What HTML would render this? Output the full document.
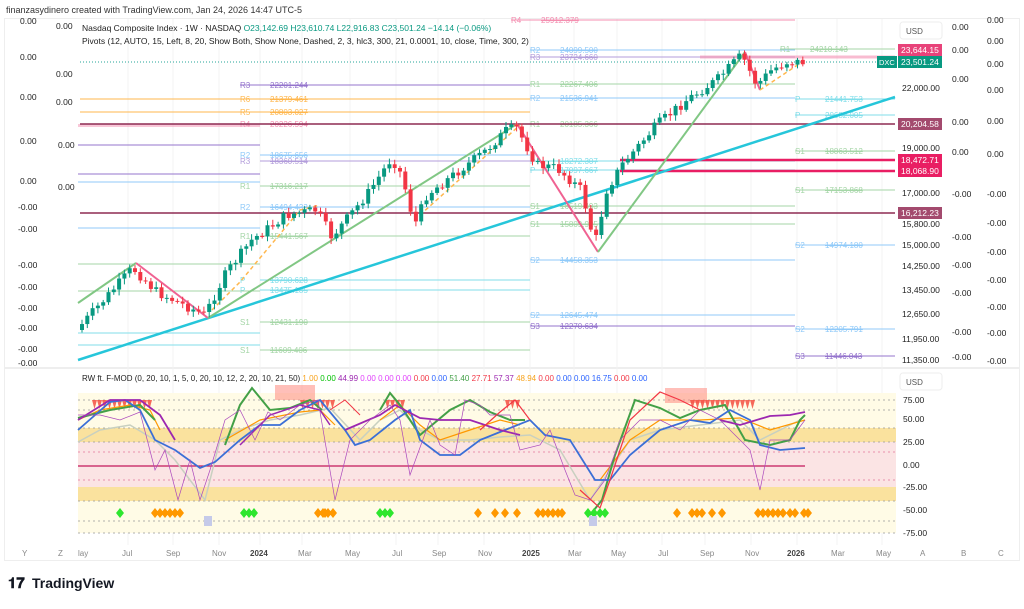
<!DOCTYPE html>
<html><head><meta charset="utf-8"><style>
body{margin:0;background:#fff;width:1024px;height:604px;overflow:hidden;font-family:"Liberation Sans",sans-serif}
svg text{font-family:"Liberation Sans",sans-serif}
</style></head><body>
<svg id="s" width="1024" height="604" viewBox="0 0 1024 604" xmlns="http://www.w3.org/2000/svg">
<rect width="1024" height="604" fill="#fff"/>
<text x="6" y="13" font-size="9" fill="#333">finanzasydinero created with TradingView.com, Jan 24, 2026 14:47 UTC-5</text>
<rect x="4.5" y="18.5" width="1015" height="542" fill="none" stroke="#eee"/>
<line x1="5" y1="368" x2="1019" y2="368" stroke="#ddd"/>
<g id="grid"></g>
<g id="levels"></g>
<g id="ind"></g>
<g id="candles"></g>
<g font-size="8.5" fill="#222">
<text x="82" y="31">Nasdaq Composite Index · 1W · NASDAQ <tspan fill="#089981">O23,142.69 H23,610.74 L22,916.83 C23,501.24 −14.14 (−0.06%)</tspan></text>
<text x="82" y="44">Pivots (12, AUTO, 15, Left, 8, 20, Show Both, Show None, Dashed, 2, 3, hlc3, 300, 21, 0.0001, 10, close, Time, 300, 2)</text>
<text x="82" y="381" font-size="8">RW ft. F-MOD (0, 20, 10, 1, 5, 0, 20, 10, 12, 2, 20, 10, 21, 50) <tspan fill="#f7a21b">1.00</tspan> <tspan fill="#00c000">0.00</tspan> <tspan fill="#9c27b0">44.99</tspan> <tspan fill="#e040fb">0.00 0.00 0.00</tspan> <tspan fill="#f23645">0.00</tspan> <tspan fill="#2962ff">0.00</tspan> <tspan fill="#43a047">51.40</tspan> <tspan fill="#f23645">27.71</tspan> <tspan fill="#9c27b0">57.37</tspan> <tspan fill="#f7a21b">48.94</tspan> <tspan fill="#f23645">0.00</tspan> <tspan fill="#2962ff">0.00 0.00 16.75</tspan> <tspan fill="#f23645">0.00</tspan> <tspan fill="#2962ff">0.00</tspan></text>
</g>
<g id="axis" font-size="8.5" fill="#222"></g>
<g font-size="8" fill="#555">
<rect x="900" y="22" width="42" height="17" rx="3" fill="#fff" stroke="#eee"/><text x="906" y="34">USD</text>
<rect x="900" y="373" width="42" height="17" rx="3" fill="#fff" stroke="#eee"/><text x="906" y="385">USD</text>
</g>
<g font-size="8" fill="#888">
<text x="22" y="556">Y</text><text x="58" y="556">Z</text><text x="78" y="556">lay</text><text x="122" y="556">Jul</text><text x="166" y="556">Sep</text><text x="212" y="556">Nov</text><text x="250" y="556" font-weight="bold" fill="#444">2024</text><text x="298" y="556">Mar</text><text x="345" y="556">May</text><text x="392" y="556">Jul</text><text x="432" y="556">Sep</text><text x="478" y="556">Nov</text><text x="522" y="556" font-weight="bold" fill="#444">2025</text><text x="568" y="556">Mar</text><text x="611" y="556">May</text><text x="658" y="556">Jul</text><text x="700" y="556">Sep</text><text x="745" y="556">Nov</text><text x="787" y="556" font-weight="bold" fill="#444">2026</text><text x="831" y="556">Mar</text><text x="876" y="556">May</text><text x="920" y="556">A</text><text x="961" y="556">B</text><text x="998" y="556">C</text>
</g>
<g font-size="15" font-weight="bold" fill="#131722"><text x="8" y="588">𝟏𝟕</text><text x="32" y="588" font-size="14">TradingView</text></g>
</svg>
<script>
const NS="http://www.w3.org/2000/svg";
function el(p,t,a,txt){const e=document.createElementNS(NS,t);for(const k in a)e.setAttribute(k,a[k]);if(txt!=null)e.textContent=txt;document.getElementById(p).appendChild(e);return e;}
[128,173,219,260,302,350,396,438,484,530,574,617,662,705,751,797,837,882].forEach(x=>el("grid","line",{x1:x,x2:x,y1:19,y2:545,stroke:"#f3f3f3"}));
const L=[[511,795,20,"#f48fb1","R4","25912.379"],[530,795,50,"#90caf9","R2","24099.500"],[530,795,57,"#b39ddb","R3","23724.660"],[780,895,49,"#a5d6a7","R1","24210.143"],
[240,530,85,"#9575cd","R3","22201.244"],[530,795,84,"#a5d6a7","R1","22267.406"],[80,530,99,"#ffb74d","R6","21379.461"],[530,795,98,"#90caf9","R2","21536.941"],
[80,530,112,"#ffb74d","R5","20803.027"],[795,895,99,"#80deea","P","21441.753"],[795,895,115,"#80deea","P","20682.005"],[240,260,124,"#f48fb1","R4","20226.594"],[530,795,124,"#a5d6a7","R1","20185.366"],
[260,530,155,"#90caf9","R2","18675.656"],[260,530,161,"#b39ddb","R3","18360.514"],[530,795,161,"#80deea","P","18272.307"],[530,795,170,"#80deea","P","17997.667"],[795,895,151,"#a5d6a7","S1","18863.512"],
[260,530,186,"#a5d6a7","R1","17316.217"],[795,895,190,"#a5d6a7","S1","17153.868"],[260,530,207,"#90caf9","R2","16494.433"],[530,795,206,"#a5d6a7","S1","16519.493"],
[260,530,236,"#a5d6a7","R1","15441.567"],[530,795,224,"#a5d6a7","S1","15809.925"],[795,895,245,"#90caf9","S2","14974.180"],[530,795,260,"#90caf9","S2","14458.353"],
[260,530,280,"#80deea","P","13790.628"],[260,530,290,"#80deea","P","13475.185"],[530,795,315,"#90caf9","S2","12645.474"],[530,795,326,"#9575cd","S3","12270.634"],[260,530,322,"#a5d6a7","S1","12431.190"],
[795,895,329,"#90caf9","S2","12205.791"],[260,530,350,"#a5d6a7","S1","11609.406"],[795,895,356,"#9575cd","S3","11446.043"],
[78,260,145,"#9575cd","",""],[78,260,174,"#9575cd","",""],[78,260,182,"#90caf9","",""],[78,260,228,"#90caf9","",""],[78,260,264,"#a5d6a7","",""],[78,260,291,"#a5d6a7","",""],[78,260,333,"#80deea","",""],[78,260,345,"#80deea","",""]];
L.forEach(l=>{el("levels","line",{x1:l[0],x2:l[1],y1:l[2],y2:l[2],stroke:l[3],"stroke-width":1});
 if(l[4]){const lx=(l[0]<=260)?240:l[0];el("levels","text",{x:lx,y:l[2]+3,"font-size":8,fill:l[3]},l[4]);el("levels","text",{x:lx+30,y:l[2]+3,"font-size":8,fill:l[3],"text-decoration":"line-through"},l[5]);}});
el("levels","line",{x1:80,x2:895,y1:62,y2:62,stroke:"#26a69a","stroke-dasharray":"1 2"});
el("levels","rect",{x:78,y:124,width:182,height:3,fill:"#f48fb1",opacity:.5});
[[124,"#8e2b52",1.5],[213,"#8e2b52",1.5],[160,"#e91e63",2.5],[171,"#e91e63",2.5]].forEach((a,i)=>el("levels","line",{x1:i<2?80:620,x2:895,y1:a[0],y2:a[0],stroke:a[1],"stroke-width":a[2]}));
el("levels","line",{x1:700,x2:895,y1:57,y2:57,stroke:"#f48fb1","stroke-width":3,opacity:.6});
el("levels","line",{x1:78,y1:360,x2:895,y2:97,stroke:"#26c6da","stroke-width":2.5});
function pl(g,pts,st,w,extra){const a={points:pts.map(p=>p.join(",")).join(" "),fill:"none",stroke:st,"stroke-width":w};Object.assign(a,extra||{});return el(g,"polyline",a);}
pl("levels",[[78,303],[136,263]],"#81c784",2);pl("levels",[[136,263],[208,318]],"#f06292",2);pl("levels",[[212,310],[240,282],[300,210],[320,205]],"#ffb74d",1.5,{"stroke-dasharray":"4 3"});
pl("levels",[[208,318],[517,124]],"#81c784",2);pl("levels",[[420,215],[520,125]],"#ffb74d",1.5,{"stroke-dasharray":"4 3"});
pl("levels",[[517,124],[598,252]],"#f06292",2);pl("levels",[[598,252],[745,52]],"#81c784",2);pl("levels",[[745,52],[760,90]],"#f06292",2);pl("levels",[[760,90],[805,60]],"#ffb74d",1.5,{"stroke-dasharray":"4 3"});
const K=[[80,330],[136,268],[160,292],[208,315],[230,272],[255,240],[290,215],[320,210],[335,237],[370,195],[395,158],[405,175],[418,225],[430,195],[470,165],[490,150],[510,130],[520,128],[540,165],[560,168],[585,190],[598,245],[610,190],[625,165],[660,125],[690,100],[720,80],[745,55],[760,85],[775,70],[790,62],[805,62]];
function yAt(x){for(let i=0;i<K.length-1;i++)if(x<=K[i+1][0]){const t=(x-K[i][0])/(K[i+1][0]-K[i][0]);return K[i][1]+t*(K[i+1][1]-K[i][1]);}return 62;}
let seed=7;function r(){seed=(seed*9301+49297)%233280;return seed/233280;}
let prev=yAt(80);
for(let x=80;x<=806;x+=5.3){const c=yAt(x+5.3)+(r()-0.5)*10;const o=prev;const up=c<o;const col=up?"#089981":"#f23645";
 const top=Math.min(o,c),bot=Math.max(o,c);el("candles","line",{x1:x+2,x2:x+2,y1:top-2-r()*4,y2:bot+2+r()*4,stroke:col,"stroke-width":1});
 el("candles","rect",{x:x,y:top,width:4,height:Math.max(1,bot-top),fill:col});prev=c;}
[["22,000.00",88],["19,000.00",148],["17,000.00",193],["15,800.00",224],["15,000.00",245],["14,250.00",266],["13,450.00",290],["12,650.00",314],["11,950.00",339],["11,350.00",360]].forEach(a=>el("axis","text",{x:902,y:a[1]+3},a[0]));
[["23,644.15",50,"#e8437a"],["23,501.24",62,"#089981"],["20,204.58",124,"#a34a6e"],["18,472.71",160,"#e91e63"],["18,068.90",171,"#e91e63"],["16,212.23",213,"#a34a6e"]].forEach(a=>{el("axis","rect",{x:898,y:a[1]-6,width:44,height:12,fill:a[2]});el("axis","text",{x:901,y:a[1]+3,fill:"#fff"},a[0]);});
el("axis","rect",{x:877,y:56,width:20,height:12,fill:"#089981"});el("axis","text",{x:879,y:65,fill:"#fff","font-size":7.5},"DXC");
[30,53,82,125,155].forEach(y=>el("axis","text",{x:952,y:y},"0.00"));[197,240,268,296,335,360].forEach(y=>el("axis","text",{x:952,y:y},"-0.00"));
[23,44,67,93,124,157].forEach(y=>el("axis","text",{x:987,y:y},"0.00"));[197,226,255,283,310,336,364].forEach(y=>el("axis","text",{x:987,y:y},"-0.00"));
[24,60,100,144,184].forEach(y=>el("axis","text",{x:20,y:y},"0.00"));[210,232,268,290,311,331,352,366].forEach(y=>el("axis","text",{x:18,y:y},"-0.00"));
[29,77,105].forEach(y=>el("axis","text",{x:56,y:y},"0.00"));[148,190].forEach(y=>el("axis","text",{x:58,y:y},"0.00"));
[["75.00",400],["50.00",419],["25.00",442],["0.00",465],["-25.00",487],["-50.00",510],["-75.00",533]].forEach(a=>el("axis","text",{x:903,y:a[1]+3},a[0]));
el("ind","rect",{x:78,y:393,width:818,height:140,fill:"#fffbe6"});
el("ind","rect",{x:78,y:428,width:818,height:14,fill:"#f9dc8c",opacity:.8});
el("ind","rect",{x:78,y:442,width:818,height:45,fill:"#fbe4e4"});
el("ind","rect",{x:78,y:487,width:818,height:14,fill:"#f9dc8c",opacity:.8});
[400,410,428,442,452,480,501,521,533].forEach(y=>el("ind","line",{x1:78,x2:896,y1:y,y2:y,stroke:(y==452||y==480)?"#e57399":"#999","stroke-dasharray":"2 3","stroke-width":.8}));
el("ind","line",{x1:78,x2:805,y1:466,y2:466,stroke:"#c2185b","stroke-width":1.2});
[[275,385,40],[665,388,42]].forEach(a=>el("ind","rect",{x:a[0],y:a[1],width:a[2],height:15,fill:"#ff8a80",opacity:.55}));
[[92,150],[300,330],[385,400],[505,515],[690,750]].forEach(a=>{for(let x=a[0];x<=a[1];x+=5)el("ind","polygon",{points:`${x},400 ${x+5},400 ${x+2.5},409`,fill:"#f44336",opacity:.8});});
pl("ind",[[78,442],[100,430],[130,425],[155,440],[175,460],[190,480],[205,500],[220,440],[245,428],[270,420],[300,415],[330,408],[360,440],[380,420],[400,410],[420,430],[440,440],[470,440],[500,437],[530,435],[560,450],[590,500],[610,470],[630,440],[660,430],[700,425],[740,420],[760,440],[800,420]],"#c8d0c0",1.5);
pl("ind",[[78,420],[100,410],[130,405],[150,410],[160,430]],"#ff9800",1.2);pl("ind",[[225,440],[260,420],[300,412],[320,410],[335,425]],"#ff9800",1.2);pl("ind",[[380,420],[400,405],[420,425],[440,440],[470,430],[500,420],[520,425]],"#ff9800",1.2);pl("ind",[[600,480],[630,440],[660,420],[700,420],[740,418],[770,430],[805,420]],"#ff9800",1.2);
pl("ind",[[78,418],[110,410],[140,405],[155,420]],"#43a047",2);pl("ind",[[225,445],[240,405],[252,388],[270,410],[290,408],[310,400],[322,410]],"#43a047",2);
pl("ind",[[380,410],[390,393],[400,405],[420,435],[450,410],[470,400],[490,412],[510,420],[525,420]],"#43a047",2);pl("ind",[[590,515],[602,500],[615,455],[635,400],[660,408],[680,418],[700,410],[725,405],[745,440],[770,445],[790,440],[800,420],[805,415]],"#43a047",2);
pl("ind",[[78,430],[110,402],[125,400],[140,410],[155,440],[175,450],[200,468],[215,462],[240,440],[260,425],[280,425],[300,410],[320,400],[345,430],[355,445],[370,440],[395,420],[410,410],[420,440],[440,455],[460,455],[480,440],[500,432],[530,420],[545,435],[570,440],[595,480],[610,480],[630,455],[660,430],[690,420],[710,423],[730,410],[750,420],[760,445],[780,450],[805,448]],"#3b6fd6",1.8);
pl("ind",[[78,420],[110,400],[140,400],[160,415],[175,440]],"#9c27b0",1.8);pl("ind",[[240,445],[270,415],[300,405],[320,410],[330,425]],"#9c27b0",1.5);pl("ind",[[345,430],[380,415],[395,405],[420,418],[440,420],[470,420],[500,430],[520,435]],"#9c27b0",1.8);pl("ind",[[720,420],[740,425],[770,416],[790,415],[805,412]],"#9c27b0",1.8);
pl("ind",[[78,415],[100,415],[120,420],[140,412],[155,470],[165,450],[178,500],[190,460],[200,500],[210,470],[225,420],[240,410],[255,440],[268,412],[280,420],[300,405],[318,400],[335,500],[350,440],[370,420],[390,405],[400,420],[410,475],[430,420],[440,445],[455,455],[465,400],[480,405],[490,415],[510,415],[520,450],[540,445],[550,430],[565,470],[575,495],[590,500],[605,480],[620,440],[640,420],[660,420],[680,430],[700,410],[720,420],[740,440],[750,450],[760,490],[770,440],[790,440],[805,420]],"#ab47bc",.7);
pl("ind",[[330,410],[345,400],[360,415]],"#f23645",1);pl("ind",[[480,430],[500,412],[515,400],[530,420]],"#f23645",1.2);pl("ind",[[580,490],[600,508],[610,480],[630,420],[660,392],[680,400],[700,410]],"#f23645",1.2);
[[120,"#2ee62e"],[244,"#2ee62e"],[249,"#2ee62e"],[254,"#2ee62e"],[380,"#2ee62e"],[385,"#2ee62e"],[390,"#2ee62e"],[588,"#2ee62e"],[594,"#2ee62e"],[600,"#2ee62e"],[605,"#2ee62e"]].forEach(a=>el("ind","polygon",{points:`${a[0]},508 ${a[0]+4},513 ${a[0]},518 ${a[0]-4},513`,fill:a[1]}));
[155,160,165,170,175,180,318,323,328,333,478,538,543,548,553,558,562,677,692,697,702,712,722,758,763,768,773,778,783,790,795,804,808,325,495,505,517].forEach(x=>el("ind","polygon",{points:`${x},508 ${x+4},513 ${x},518 ${x-4},513`,fill:"#ff9800"}));
el("ind","rect",{x:204,y:516,width:8,height:10,fill:"#c5cae9"});el("ind","rect",{x:589,y:516,width:8,height:10,fill:"#c5cae9"});
</script>
</body></html>
